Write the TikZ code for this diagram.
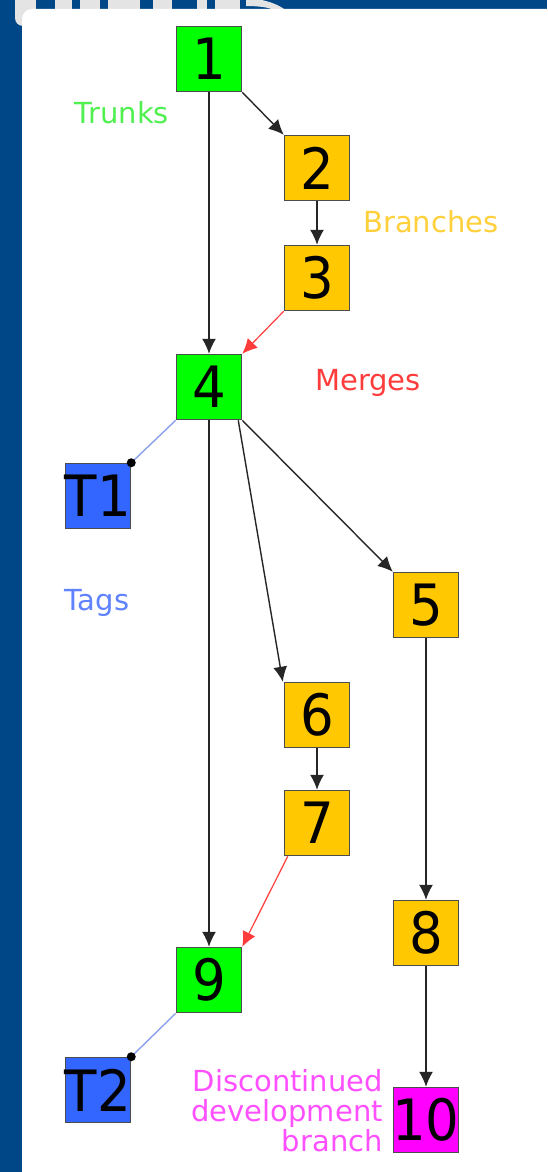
\documentclass[tikz,border=0pt]{standalone}
\usepackage{fontspec}
\setmainfont{DejaVu Sans}
\usetikzlibrary{arrows.meta}
\definecolor{bgblue}{RGB}{0,71,136}
\definecolor{topgrey}{RGB}{228,228,228}
\definecolor{trunkgreen}{RGB}{0,255,0}
\definecolor{branchgold}{RGB}{255,200,0}
\definecolor{tagblue}{RGB}{51,102,255}
\definecolor{discmag}{RGB}{255,0,255}
\definecolor{lblgreen}{RGB}{80,240,80}
\definecolor{lblgold}{RGB}{255,208,60}
\definecolor{lblred}{RGB}{255,60,60}
\definecolor{lblblue}{RGB}{95,130,255}
\definecolor{lblmag}{RGB}{255,80,255}
\definecolor{taglink}{RGB}{140,160,235}
\definecolor{mergered}{RGB}{255,60,60}
\newcommand{\boxtext}[1]{\makebox[0pt]{\scalebox{0.93}[1]{#1}}}
\tikzset{
  commit/.style={draw=black!70, line width=1.5pt, minimum size=65pt, inner sep=0pt,
    font=\fontsize{57}{57}\selectfont},
  trunk/.style={commit, fill=trunkgreen},
  branchbox/.style={commit, fill=branchgold},
  tagbox/.style={commit, fill=tagblue},
  discbox/.style={commit, fill=discmag},
  flow/.style={draw=black!85, line width=1.4pt, -{Latex[length=15pt,width=14pt]}},
  mergeflow/.style={draw=mergered, line width=1.2pt, -{Latex[length=15pt,width=14pt]}},
  taglinkstyle/.style={draw=taglink, line width=1.4pt},
  lbl/.style={font=\fontsize{29}{29}\selectfont, inner sep=0pt},
}
\begin{document}
\begin{tikzpicture}[x=1pt,y=-1pt]
\useasboundingbox (0,0) rectangle (547,1172);
% background
\fill[bgblue] (0,0) rectangle (547,1172);
% cut-off title letters at top
\fill[topgrey, rounded corners=8pt] (15,-10) rectangle (42,26);
\fill[topgrey] (36,0) rectangle (240,10);
\foreach \a/\b in {36/55,72/80,100/108,140/153,172/197,207/215}
  \fill[bgblue] (\a,0) rectangle (\b,10);
\fill[topgrey] (246,0) -- (262,0) .. controls (275,3) and (282,7) .. (288,12)
  -- (278,12) .. controls (272,8) and (262,6) .. (246,6) -- cycle;
% white panel (only top-left corner rounded)
\fill[white, rounded corners=10pt] (22,1200) -- (22,9) -- (570,9) [sharp corners] -- (570,1200) -- cycle;

% nodes
\node[trunk] (n1) at (209,59) {\boxtext{1}};
\node[branchbox] (n2) at (317,168) {\boxtext{2}};
\node[branchbox] (n3) at (317,278) {\boxtext{3}};
\node[trunk] (n4) at (209,387) {\boxtext{4}};
\node[tagbox] (t1) at (98,496) {\boxtext{T1}};
\node[branchbox] (n5) at (426,605) {\boxtext{5}};
\node[branchbox] (n6) at (317,715) {\boxtext{6}};
\node[branchbox] (n7) at (317,823) {\boxtext{7}};
\node[branchbox] (n8) at (426,933) {\boxtext{8}};
\node[trunk] (n9) at (209,980) {\boxtext{9}};
\node[tagbox] (t2) at (98,1090) {\boxtext{T2}};
\node[discbox] (n10) at (426,1120) {\boxtext{10}};

% labels
\node[lbl, text=lblgreen] (lt) at (122,113) {Trunks};
\node[lbl, text=lblgold, anchor=west] (lb) at (363,222) {Branches};
\node[lbl, text=lblred] (lm) at (368,383) {Merges};
\node[lbl, text=lblblue] (ltag) at (97,603) {Tags};
\node[lbl, text=lblmag, anchor=east, align=right, font=\fontsize{29}{30}\selectfont] (ld) at (383,1111)
  {Discontinued\\development\\branch};

% edges
\draw[flow] (n1.south east) -- (n2.north west);
\draw[flow] (n1.south) -- (n4.north);
\draw[flow] (n2.south) -- (n3.north);
\draw[mergeflow] (n3.south west) -- (n4.north east);
\draw[flow] (n4.south east) -- (n5.north west);
\draw[flow] ([xshift=-4pt]n4.south east) -- ([xshift=-1pt]n6.north west);
\draw[flow] (n4.south) -- (n9.north);
\draw[flow] (n6.south) -- (n7.north);
\draw[mergeflow] ([xshift=4pt]n7.south west) -- (n9.north east);
\draw[flow] (n5.south) -- (n8.north);
\draw[flow] (n8.south) -- (n10.north);
\draw[taglinkstyle] (n4.south west) -- (t1.north east);
\fill[black] (t1.north east) circle (4.5pt);
\draw[taglinkstyle] (n9.south west) -- (t2.north east);
\fill[black] (t2.north east) circle (4.5pt);
\end{tikzpicture}
\end{document}
